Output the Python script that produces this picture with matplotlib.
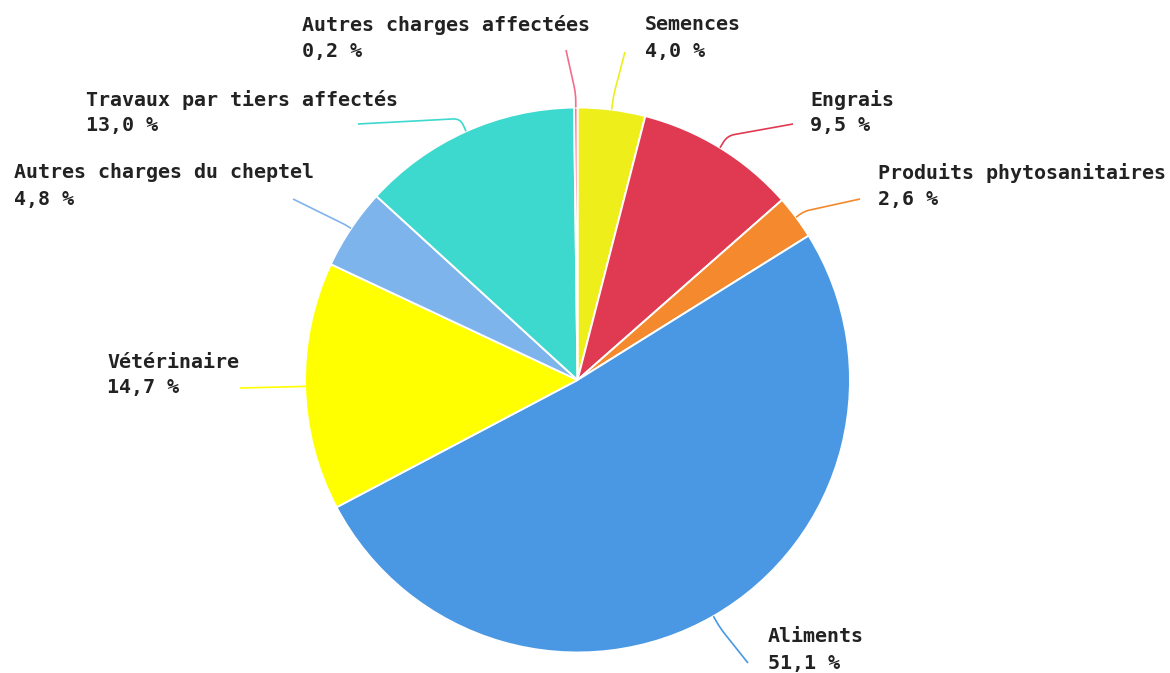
import numpy as np
import matplotlib
matplotlib.use("Agg")
import matplotlib.pyplot as plt
from matplotlib.path import Path
from matplotlib.patches import PathPatch

# ---- data (clockwise from 12 o'clock) ----
categories = ["Semences", "Engrais", "Produits phytosanitaires", "Aliments",
              "Vétérinaire", "Autres charges du cheptel",
              "Travaux par tiers affectés", "Autres charges affectées"]
values = [4.0, 9.5, 2.6, 51.1, 14.7, 4.8, 13.0, 0.2]
pct_labels = ["4,0 %", "9,5 %", "2,6 %", "51,1 %", "14,7 %", "4,8 %", "13,0 %", "0,2 %"]
colors = ["#EEEE1B", "#E03A52", "#F5892D", "#4A98E3",
          "#FFFF00", "#7DB4EC", "#3DD9CE", "#F36D8C"]

# ---- layout (pixel positions, y measured from the top) ----
W, H = 1170, 673
cx, cy, R = 577.5, 380.0, 272.5
text_left = [645, 810, 878, 768, 107, 14, 86, 302]
text_y1 = [25, 100, 173, 637, 362, 173, 100, 25]
line_gap = 26
leader_end = [(625, 52), (793, 124), (860, 199), (748, 663),
              (240, 388), (293, 199), (358, 124), (566, 50)]
leader_len1 = [14, 14, 10, 14, 3, 6, 14, 14]

fig = plt.figure(figsize=(W / 100, H / 100), dpi=100)
ax = fig.add_axes([0, 0, 1, 1])
wedges, _ = ax.pie(values, colors=colors, startangle=90, counterclock=False,
                   center=(cx, H - cy), radius=R,
                   wedgeprops=dict(edgecolor="white", linewidth=1.4))
ax.set_xlim(0, W)
ax.set_ylim(0, H)
ax.axis("off")

font = dict(family="DejaVu Sans Mono", weight="bold", fontsize=14.4, color="#222222")

for w, name, pct, col, tx, ty, end, l1 in zip(wedges, categories, pct_labels, colors,
                                              text_left, text_y1, leader_end, leader_len1):
    mid = np.deg2rad((w.theta1 + w.theta2) / 2)
    ux, uy = np.cos(mid), np.sin(mid)
    p0 = np.array([cx + R * ux, (H - cy) + R * uy])
    bend = p0 + l1 * np.array([ux, uy])
    p_end = np.array([end[0], H - end[1]])
    d1 = bend - p0
    d2 = p_end - bend
    n1, n2 = np.linalg.norm(d1), np.linalg.norm(d2)
    r = min(8, 0.5 * n1, 0.5 * n2)
    a = bend - r * d1 / n1 if n1 > 0 else bend
    b = bend + r * d2 / n2
    verts = [p0, a, bend, b, p_end]
    codes = [Path.MOVETO, Path.LINETO, Path.CURVE3, Path.CURVE3, Path.LINETO]
    ax.add_patch(PathPatch(Path(verts, codes), fill=False, edgecolor=col, linewidth=1.2))
    ax.text(tx, H - ty, name, ha="left", va="center", **font)
    ax.text(tx, H - ty - line_gap, pct, ha="left", va="center", **font)

fig.savefig("out.png", dpi=100, facecolor="white")
